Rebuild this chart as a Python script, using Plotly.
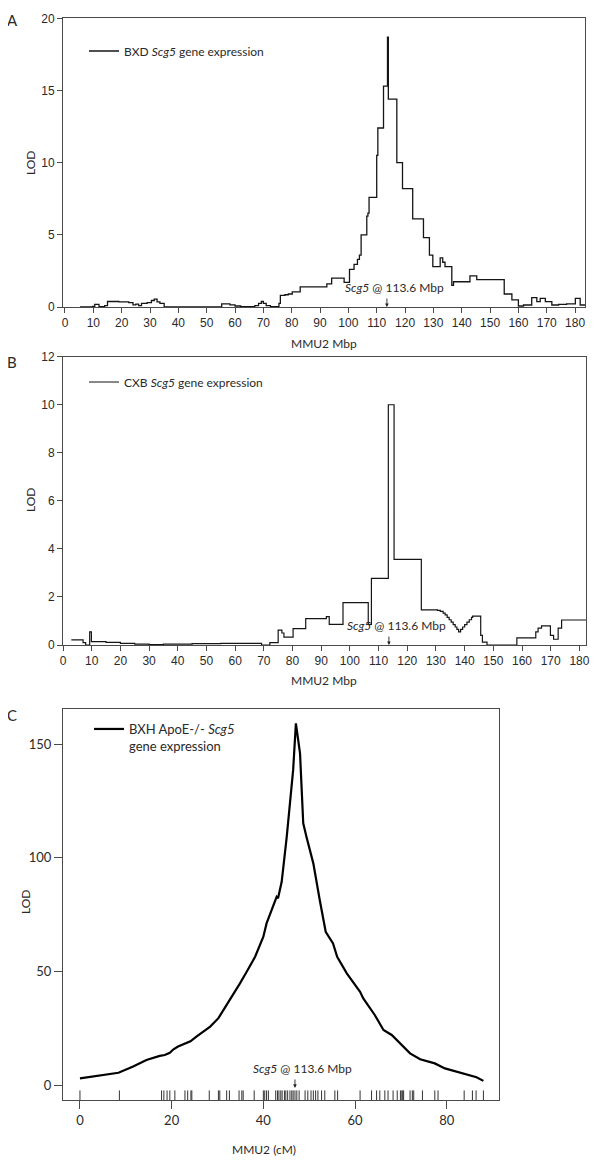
import plotly.graph_objects as go

# ---------------- Panel A: BXD Scg5 expression (step curve) ----------------
bxd_mbp = [5.3, 9.8, 10.5, 12.0, 14.0, 15.0, 19.0, 22.5, 24.0, 25.0, 26.0, 27.0, 29.0,
           30.5, 31.5, 32.5, 33.5, 35.0, 55.3, 58.2, 60.0, 62.0, 67.0, 68.3, 69.3, 70.0,
           71.0, 72.5, 75.5, 76.0, 77.6, 78.8, 80.2, 83.0, 92.4, 94.1, 98.5, 100.4, 102.0,
           103.2, 103.9, 104.5, 106.5, 106.9, 107.3, 110.0, 110.4, 112.4, 113.8, 114.1,
           117.1, 119.1, 122.7, 126.5, 128.6, 129.8, 132.4, 133.3, 134.1, 136.5, 137.1,
           142.9, 145.3, 155.0, 157.7, 160.0, 161.8, 164.7, 166.5, 167.7, 169.5, 171.8,
           174.2, 177.0, 180.1, 181.8, 183.5]
bxd_lod = [0.0, 0.05, 0.18, 0.02, 0.1, 0.38, 0.35, 0.3, 0.15, 0.2, 0.1, 0.25, 0.3,
           0.45, 0.55, 0.35, 0.25, 0.0, 0.22, 0.15, 0.07, 0.03, 0.1, 0.25, 0.38, 0.25,
           0.1, 0.02, 0.25, 0.8, 0.85, 0.9, 1.05, 1.4, 1.6, 2.0, 1.7, 2.6, 2.95,
           3.3, 3.6, 5.0, 6.3, 6.5, 7.6, 10.5, 12.4, 15.3, 18.7, 14.4,
           10.0, 8.2, 6.1, 4.8, 3.6, 2.8, 3.4, 3.1, 2.8, 1.5, 1.75,
           2.15, 1.9, 0.9, 0.5, 0.07, 0.14, 0.65, 0.37, 0.6, 0.37, 0.14,
           0.18, 0.22, 0.6, 0.14, 0.14]

# ---------------- Panel B: CXB Scg5 expression (step curve) ----------------
cxb_mbp = [2.9, 7.0, 7.9, 9.3, 9.9, 15.0, 20.0, 25.0, 30.0, 35.0, 45.0, 55.0, 69.2,
           72.1, 75.0, 76.3, 77.0, 80.2, 84.6, 91.8, 92.8, 97.6, 106.4, 107.5, 113.4,
           115.4, 124.9, 130.5, 131.5, 132.5, 133.2, 133.9, 134.6, 135.3, 136.0, 136.7,
           137.3, 137.9, 138.6, 139.3, 140.0, 140.8, 141.6, 142.4, 142.8, 145.6, 146.2,
           147.8, 158.2, 164.8, 165.6, 166.8, 169.9, 171.0, 172.6, 173.8, 182.3]
cxb_lod = [0.21, 0.1, 0.0, 0.55, 0.14, 0.11, 0.07, 0.04, 0.02, 0.04, 0.06, 0.07, 0.0,
           0.1, 0.62, 0.5, 0.33, 0.68, 1.1, 1.18, 0.86, 1.76, 0.86, 2.77, 10.0,
           3.56, 1.46, 1.44, 1.4, 1.33, 1.25, 1.15, 1.05, 0.95, 0.85, 0.75,
           0.65, 0.55, 0.65, 0.75, 0.85, 0.95, 1.05, 1.15, 1.2, 0.4, 0.12,
           0.0, 0.3, 0.55, 0.7, 0.8, 0.4, 0.24, 0.7, 1.04, 1.04]

# ---------------- Panel C: BXH ApoE-/- Scg5 expression ----------------
bxh_cm = [0, 8.4, 11.6, 14.5, 17.4, 18.5, 19.6, 20.4, 21.4, 22.9, 24.1, 25.4, 28.4, 30.2,
          31.6, 32.7, 34.9, 36.4, 38.2, 40.0, 40.7, 42.9, 43.2, 44.0, 45.1, 46.5, 47.1,
          48.0, 48.7, 49.4, 50.9, 52.3, 53.6, 55.2, 56.1, 58.2, 61.1, 61.8, 64.3, 66.2,
          68.0, 72.0, 74.2, 77.4, 79.6, 86.5, 88.0]
bxh_lod = [2.9, 5.4, 8.1, 11.0, 12.8, 13.2, 14.2, 15.7, 16.9, 18.3, 19.2, 21.3, 25.7, 29.4,
           33.8, 37.4, 44.7, 49.9, 56.4, 65.2, 71.1, 82.8, 82.1, 89.4, 109.2, 138.6, 159.1,
           145.9, 115.1, 109.2, 97.5, 81.4, 67.4, 62.3, 56.4, 49.1, 41.0, 38.1, 30.8, 24.2,
           22.0, 13.9, 11.3, 9.5, 7.3, 3.4, 1.8]
marker_cm = [0.0, 8.6, 17.8, 18.3, 19.0, 19.6, 20.7, 22.9, 23.5, 24.2, 24.4, 28.2, 30.2, 30.5,
             32.0, 32.6, 34.7, 35.3, 35.6, 38.0, 40.0, 40.3, 40.7, 41.1, 42.7, 43.1, 43.4,
             43.8, 44.1, 44.6, 44.9, 45.3, 45.8, 46.2, 46.5, 46.9, 47.3, 47.8, 49.1, 49.7,
             50.4, 50.9, 51.4, 51.9, 52.7, 53.4, 55.6, 56.2, 61.1, 63.6, 64.7, 65.4, 66.5,
             67.2, 68.3, 69.2, 69.9, 70.2, 70.4, 70.6, 72.0, 72.5, 72.8, 74.7, 77.4, 78.1,
             83.8, 85.6, 86.4, 88.0]

scg5_mbp = 113.6
scg5_cm = 46.9
ab_xticks = list(range(0, 181, 10))
a_yticks = [0, 5, 10, 15, 20]
b_yticks = [0, 2, 4, 6, 8, 10, 12]
c_xticks = [0, 20, 40, 60, 80]
c_yticks = [0, 50, 100, 150]

# page body has an 8px default margin: the figure is drawn from (8, 8)
OFF = 8
W, H = 600 - OFF, 1164 - OFF
MY = "Lato"
AR = "Liberation Sans"
LINE = "#151515"
AX = "#4a4a4a"
TXT = "#2a2a2a"


def px_x(p):
    return (p - OFF) / W


def px_y(p):
    return 1 - (p - OFF) / H


fig = go.Figure()

fig.add_trace(go.Scatter(x=bxd_mbp, y=bxd_lod, mode="lines", line=dict(color=LINE, width=1.3, shape="hv"),
                         name="BXD <i>Scg5</i> gene expression", xaxis="x", yaxis="y", legend="legend"))
fig.add_trace(go.Scatter(x=cxb_mbp, y=cxb_lod, mode="lines", line=dict(color=LINE, width=1.2, shape="hv"),
                         name="CXB <i>Scg5</i> gene expression", xaxis="x2", yaxis="y2", legend="legend2"))
fig.add_trace(go.Scatter(x=bxh_cm, y=bxh_lod, mode="lines", line=dict(color="#000", width=2.2),
                         name="BXH ApoE-/- <i>Scg5</i><br>gene expression", xaxis="x3", yaxis="y3",
                         legend="legend3"))
rug_y = -4.85
fig.add_trace(go.Scatter(x=marker_cm, y=[rug_y] * len(marker_cm), mode="markers",
                         marker=dict(symbol="line-ns", size=8, line=dict(color="#333", width=1)),
                         showlegend=False, xaxis="x3", yaxis="y3", hoverinfo="x"))

common_ax = dict(showline=True, mirror=True, linecolor=AX, linewidth=1, showgrid=False, zeroline=False,
                 ticks="outside", tickcolor=AX, tickwidth=1, automargin=False)

fig.update_layout(
    width=W, height=H, margin=dict(l=0, r=0, t=0, b=0, autoexpand=False),
    plot_bgcolor="white", paper_bgcolor="white",
    xaxis=dict(domain=[px_x(63), px_x(585)], range=[-0.7, 183.5], tickvals=ab_xticks, ticklen=5,
               tickfont=dict(family=AR, size=12, color=TXT), anchor="y", **common_ax),
    yaxis=dict(domain=[px_y(307), px_y(18.3)], range=[0, 20], tickvals=a_yticks, ticklen=5,
               tickfont=dict(family=AR, size=12, color=TXT), anchor="x", **common_ax),
    xaxis2=dict(domain=[px_x(63), px_x(586)], range=[0, 182.3], tickvals=ab_xticks, ticklen=5,
                tickfont=dict(family=AR, size=12, color=TXT), anchor="y2", **common_ax),
    yaxis2=dict(domain=[px_y(645), px_y(356.7)], range=[0, 12], tickvals=b_yticks, ticklen=5,
                tickfont=dict(family=AR, size=12, color=TXT), anchor="x2", **common_ax),
    xaxis3=dict(domain=[px_x(63), px_x(499)], range=[-3.7, 91.4], tickvals=c_xticks, ticklen=8,
                tickfont=dict(family=MY, size=13, color=TXT), anchor="y3", **common_ax),
    yaxis3=dict(domain=[px_y(1100), px_y(709)], range=[-6.6, 165.4], tickvals=c_yticks, ticklen=8,
                tickfont=dict(family=MY, size=13, color=TXT), anchor="x3", **common_ax),
    legend=dict(x=px_x(84), y=px_y(51), xanchor="left", yanchor="middle", bgcolor="rgba(0,0,0,0)",
                font=dict(family=MY, size=12, color=TXT), itemwidth=30),
    legend2=dict(x=px_x(84), y=px_y(382), xanchor="left", yanchor="middle", bgcolor="rgba(0,0,0,0)",
                 font=dict(family=MY, size=12, color=TXT), itemwidth=30),
    legend3=dict(x=px_x(89), y=px_y(714), xanchor="left", yanchor="top", bgcolor="rgba(0,0,0,0)",
                 font=dict(family=MY, size=13, color=TXT), itemwidth=30, valign="top"),
)

ann = []
# panel letters
for letter, yy in [("A", 20), ("B", 362), ("C", 715)]:
    ann.append(dict(text=letter, x=px_x(12), y=px_y(yy), xref="paper", yref="paper", showarrow=False,
                    xanchor="center", yanchor="middle", font=dict(family=MY, size=15, color=TXT)))
# y titles
for yy, xx in [(163, 30), (500, 30), (902, 25)]:
    ann.append(dict(text="LOD", x=px_x(xx), y=px_y(yy), xref="paper", yref="paper", showarrow=False,
                    xanchor="center", yanchor="middle", textangle=-90,
                    font=dict(family=MY, size=12, color=TXT)))
# x titles
for txt, xx, yy in [("MMU2 Mbp", 324, 343), ("MMU2 Mbp", 324, 680), ("MMU2 (cM)", 264, 1149)]:
    ann.append(dict(text=txt, x=px_x(xx), y=px_y(yy), xref="paper", yref="paper", showarrow=False,
                    xanchor="center", yanchor="middle", font=dict(family=MY, size=12, color=TXT)))
# Scg5 markers
for xr, yr, xv, yv in [("x", "y", scg5_mbp, 0), ("x2", "y2", scg5_mbp, 0), ("x3", "y3", scg5_cm, -1.3)]:
    ann.append(dict(text="", x=xv, y=yv, xref=xr, yref=yr, showarrow=True, ax=0, ay=-10,
                    arrowhead=2, arrowsize=0.8, arrowwidth=0.9, arrowcolor="#222"))
    ann.append(dict(text="<i>Scg5</i> @ 113.6 Mbp", x=xv, y=yv, xref=xr, yref=yr, showarrow=False,
                    yanchor="bottom", yshift=10, xshift=8, font=dict(family=MY, size=12, color=TXT)))
fig.update_layout(annotations=ann)

fig.write_html("out.html")
